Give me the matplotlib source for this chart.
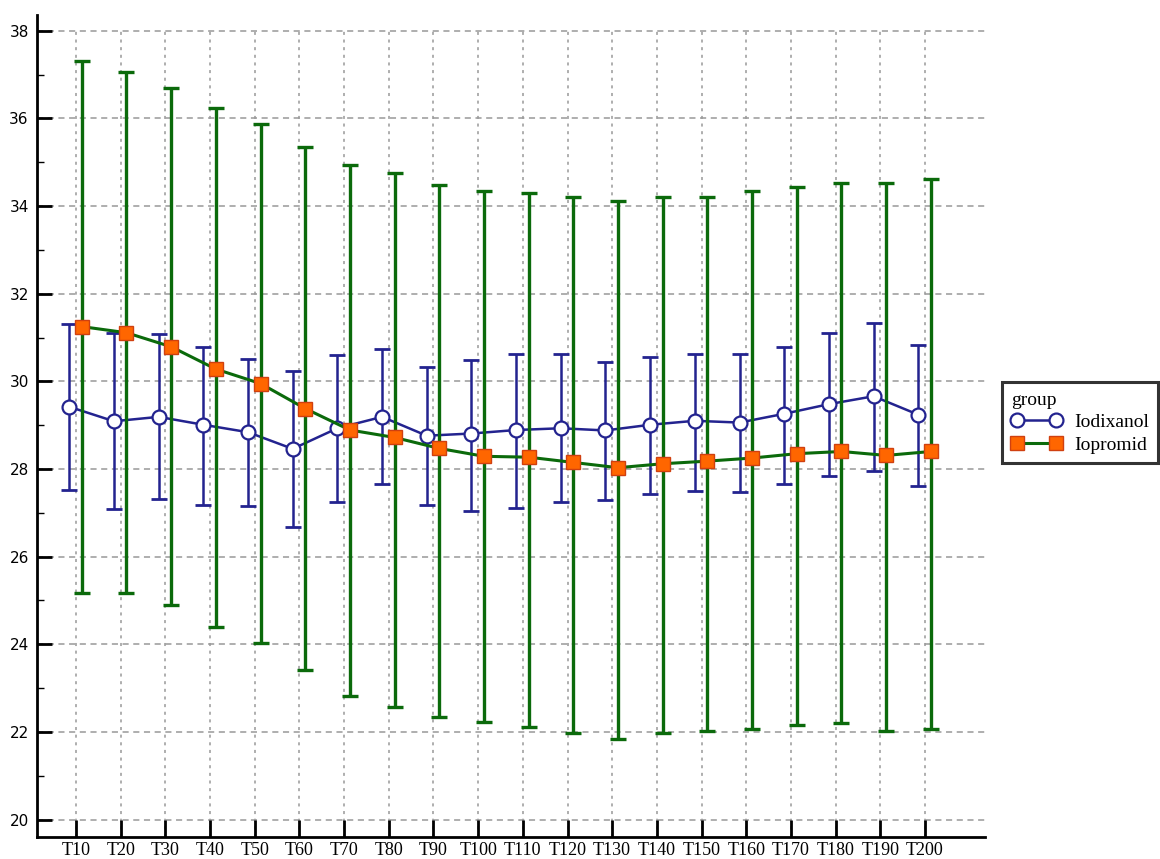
import numpy as np
import matplotlib
matplotlib.use('Agg')
import matplotlib.pyplot as plt
from matplotlib.ticker import MultipleLocator

# Datos
labels = ['T10', 'T20', 'T30', 'T40', 'T50', 'T60', 'T70', 'T80', 'T90', 'T100',
          'T110', 'T120', 'T130', 'T140', 'T150', 'T160', 'T170', 'T180', 'T190', 'T200']

iodixanol_mean = [29.42, 29.09, 29.19, 29.01, 28.84, 28.46, 28.93, 29.19, 28.76, 28.81,
                  28.89, 28.93, 28.88, 29.01, 29.10, 29.06, 29.26, 29.48, 29.66, 29.24]
iodixanol_low = [27.53, 27.09, 27.32, 27.19, 27.15, 26.67, 27.24, 27.66, 27.17, 27.05,
                 27.12, 27.24, 27.30, 27.43, 27.49, 27.47, 27.66, 27.85, 27.96, 27.62]
iodixanol_high = [31.30, 31.11, 31.07, 30.79, 30.52, 30.24, 30.61, 30.75, 30.33, 30.49,
                  30.62, 30.62, 30.45, 30.56, 30.62, 30.62, 30.79, 31.11, 31.34, 30.84]

iopromid_mean = [31.25, 31.11, 30.79, 30.28, 29.95, 29.38, 28.89, 28.72, 28.47, 28.29,
                 28.27, 28.15, 28.03, 28.12, 28.18, 28.25, 28.35, 28.40, 28.31, 28.40]
iopromid_low = [25.16, 25.16, 24.89, 24.40, 24.02, 23.41, 22.81, 22.58, 22.35, 22.22,
                22.12, 21.97, 21.84, 21.97, 22.01, 22.06, 22.16, 22.21, 22.01, 22.06]
iopromid_high = [37.30, 37.07, 36.70, 36.23, 35.87, 35.35, 34.94, 34.75, 34.47, 34.34,
                 34.29, 34.20, 34.11, 34.20, 34.20, 34.34, 34.43, 34.52, 34.52, 34.61]

blue = '#23238f'
green = '#0b6a0b'
orange = '#ff6600'
serif = 'Liberation Serif'

x = np.arange(len(labels))

fig = plt.figure(figsize=(11.6, 8.59), dpi=100)
ax = fig.add_axes([0.032, 0.026, 0.817, 0.9565])

ax.set_xlim(-0.87, 20.34)
ax.set_ylim(19.61, 38.36)

# Rejilla discontinua
for yv in np.arange(20, 39, 2):
    ax.axhline(yv, color='#999999', lw=1.1, ls=(0, (4, 3)), zorder=0)
ax.vlines(x, 19.61, 38, color='#999999', lw=1.1, ls=(0, (2, 3)), zorder=0)

# Iodixanol
xb = x - 0.15
mb = np.array(iodixanol_mean)
err_b = [mb - np.array(iodixanol_low), np.array(iodixanol_high) - mb]
ax.errorbar(xb, mb, yerr=err_b, fmt='none', ecolor=blue, elinewidth=1.8,
            capsize=6, capthick=2, zorder=2)
ax.plot(xb, mb, color=blue, lw=1.8, marker='o', ms=10, mfc='white',
        mec=blue, mew=1.6, zorder=3, label='Iodixanol')

# Iopromid
xo = x + 0.13
mo = np.array(iopromid_mean)
err_o = [mo - np.array(iopromid_low), np.array(iopromid_high) - mo]
ax.errorbar(xo, mo, yerr=err_o, fmt='none', ecolor=green, elinewidth=2.4,
            capsize=6, capthick=2.4, zorder=4)
ax.plot(xo, mo, color=green, lw=2.2, marker='s', ms=10, mfc=orange,
        mec='#d04010', mew=1.0, zorder=5, label='Iopromid')

# Ejes
ax.spines['top'].set_visible(False)
ax.spines['right'].set_visible(False)
ax.spines['left'].set_linewidth(2)
ax.spines['bottom'].set_linewidth(2)

ax.set_xticks(x)
ax.set_xticklabels(labels, fontfamily=serif, fontsize=13)
ax.yaxis.set_major_locator(MultipleLocator(2))
ax.yaxis.set_minor_locator(MultipleLocator(1))
ax.tick_params(axis='x', direction='in', length=12, width=2, pad=4)
ax.tick_params(axis='y', which='major', direction='in', length=11, width=2,
               labelsize=11, pad=6, labelfontfamily='DejaVu Sans')
ax.tick_params(axis='y', which='minor', direction='in', length=5, width=1)

leg = ax.legend(title='group', loc='upper left', bbox_to_anchor=(1.018, 0.5535),
                numpoints=2, frameon=True, fancybox=False, edgecolor='black',
                prop={'family': serif, 'size': 14}, handlelength=2.6,
                handletextpad=0.6, borderpad=0.5, labelspacing=0.25,
                borderaxespad=0, alignment='left')
leg.get_title().set_fontfamily(serif)
leg.get_title().set_fontsize(14)
leg.get_frame().set_linewidth(2.2)

fig.savefig('out.png', dpi=100)
